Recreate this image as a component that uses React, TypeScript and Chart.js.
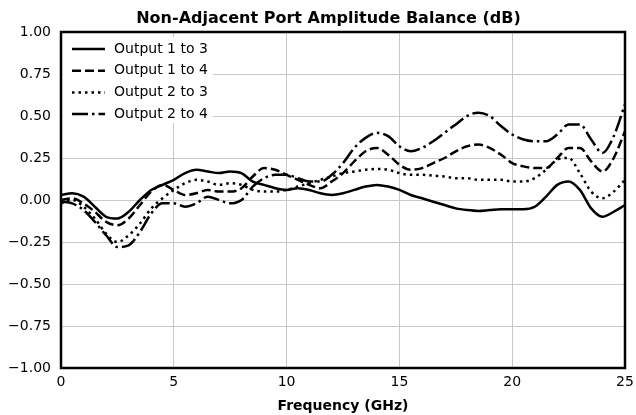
import React, { useEffect, useRef } from "react";
import { Chart, registerables } from "chart.js";

Chart.register(...registerables);

const frequencyGHz = [
  0, 0.5, 1, 1.5, 2, 2.5, 3, 3.5, 4, 4.5, 5, 5.5, 6, 6.5, 7, 7.5, 8, 8.5, 9, 9.5,
  10, 10.5, 11, 11.5, 12, 12.5, 13, 13.5, 14, 14.5, 15, 15.5, 16, 16.5, 17, 17.5,
  18, 18.5, 19, 19.5, 20, 20.5, 21, 21.5, 22, 22.5, 23, 23.5, 24, 24.5, 25,
];

const output1to3 = [
  0.03, 0.04, 0.02, -0.04, -0.1, -0.11, -0.07, 0.0, 0.06, 0.09, 0.12, 0.16, 0.18, 0.17, 0.16, 0.17,
  0.16, 0.11, 0.09, 0.07, 0.06, 0.07, 0.06, 0.04, 0.03, 0.04, 0.06, 0.08, 0.09, 0.08, 0.06, 0.03,
  0.01, -0.01, -0.03, -0.05, -0.06, -0.065, -0.06, -0.055, -0.055, -0.055, -0.04, 0.02, 0.09, 0.11,
  0.06, -0.05, -0.1, -0.07, -0.03,
];

const output1to4 = [
  0.0, 0.01, -0.02, -0.07, -0.13, -0.15, -0.11, -0.03, 0.05, 0.09, 0.06, 0.03, 0.04, 0.06, 0.05, 0.05,
  0.07, 0.14, 0.19, 0.18, 0.15, 0.12, 0.09, 0.07, 0.11, 0.16, 0.23, 0.29, 0.31, 0.27, 0.21, 0.18,
  0.19, 0.22, 0.25, 0.29, 0.32, 0.33, 0.31, 0.27, 0.22, 0.2, 0.19, 0.19, 0.25, 0.31, 0.31, 0.23,
  0.17, 0.25, 0.41,
];

const output2to3 = [
  -0.02, 0.0, -0.04, -0.11, -0.2, -0.25, -0.21, -0.14, -0.05, 0.01, 0.06, 0.1, 0.12, 0.11, 0.09, 0.1,
  0.09, 0.06, 0.05, 0.05, 0.06, 0.08, 0.1, 0.12, 0.14, 0.16, 0.17, 0.18, 0.185, 0.18, 0.16, 0.15,
  0.15, 0.145, 0.14, 0.13, 0.13, 0.12, 0.12, 0.12, 0.11, 0.11, 0.13, 0.18, 0.24, 0.25, 0.16, 0.05,
  0.01, 0.05, 0.12,
];

const output2to4 = [
  -0.01, -0.02, -0.06, -0.13, -0.21, -0.28, -0.27, -0.19, -0.08, -0.02, -0.02, -0.04, -0.02, 0.02, 0.0,
  -0.02, 0.0, 0.08, 0.13, 0.15, 0.15, 0.13, 0.11, 0.11, 0.15, 0.22, 0.31, 0.37, 0.4, 0.38, 0.32, 0.29,
  0.31, 0.35, 0.4, 0.45, 0.5, 0.52, 0.5, 0.44, 0.39, 0.36, 0.35, 0.35, 0.39, 0.45, 0.45, 0.36, 0.28,
  0.38, 0.57,
];

const seriesLabels = ["Output 1 to 3", "Output 1 to 4", "Output 2 to 3", "Output 2 to 4"];
const seriesValues = [output1to3, output1to4, output2to3, output2to4];
const seriesDashes: number[][] = [[], [9, 4], [2.5, 4], [16, 4, 2.5, 4]];

const titleText = "Non-Adjacent Port Amplitude Balance (dB)";
const xAxisTitle = "Frequency (GHz)";

const FONT = "'DejaVu Sans', sans-serif";

Chart.defaults.font.family = FONT;
Chart.defaults.font.size = 14;
Chart.defaults.color = "#000";

const framePlugin = {
  id: "frameAndLegend",
  afterDatasetsDraw(chart: any) {
    const { ctx, chartArea } = chart;
    const { left, top, right, bottom } = chartArea;
    ctx.save();
    // legend (inside plot, upper left)
    ctx.fillStyle = "#ffffff";
    ctx.fillRect(left + 2, top + 5, 150, 86);
    ctx.font = `14px ${FONT}`;
    ctx.textBaseline = "middle";
    ctx.textAlign = "left";
    chart.data.datasets.forEach((ds: any, i: number) => {
      const y = top + 17 + i * 21.7;
      ctx.strokeStyle = "#000";
      ctx.lineWidth = 2.5;
      ctx.setLineDash(ds.borderDash || []);
      ctx.beginPath();
      ctx.moveTo(left + 11, y);
      ctx.lineTo(left + 44, y);
      ctx.stroke();
      ctx.setLineDash([]);
      ctx.fillStyle = "#000";
      ctx.fillText(ds.label, left + 53, y);
    });
    // frame
    ctx.strokeStyle = "#000";
    ctx.lineWidth = 2.5;
    ctx.strokeRect(left, top, right - left, bottom - top);
    // title
    ctx.font = `bold 16px ${FONT}`;
    ctx.textAlign = "center";
    ctx.textBaseline = "alphabetic";
    ctx.fillStyle = "#000";
    ctx.fillText(titleText, 328.5, 23);
    ctx.restore();
  },
};

export default function App() {
  const canvasRef = useRef<HTMLCanvasElement | null>(null);

  useEffect(() => {
    document.body.style.margin = "0";
    const canvas = canvasRef.current;
    if (!canvas) return;
    const chart = new Chart(canvas, {
      type: "line",
      data: {
        datasets: seriesLabels.map((label, i) => ({
          label,
          data: frequencyGHz.map((f, j) => ({ x: f, y: seriesValues[i][j] })),
          borderColor: "#000",
          backgroundColor: "#000",
          borderWidth: 2.5,
          borderDash: seriesDashes[i],
          pointRadius: 0,
          tension: 0.4,
          cubicInterpolationMode: "monotone" as const,
          fill: false,
        })),
      },
      options: {
        animation: false,
        responsive: false,
        maintainAspectRatio: false,
        layout: { padding: { left: 0, right: 11, top: 32, bottom: 0 } },
        plugins: {
          legend: { display: false },
          tooltip: { enabled: false },
          title: { display: false },
        },
        scales: {
          x: {
            type: "linear",
            min: 0,
            max: 25,
            ticks: {
              stepSize: 5,
              color: "#000",
              font: { family: FONT, size: 14 },
              padding: 6,
              maxRotation: 0,
            },
            grid: { color: "#c8c8c8", lineWidth: 1, drawTicks: false },
            border: { display: false },
            title: {
              display: true,
              text: xAxisTitle,
              color: "#000",
              font: { family: FONT, size: 14, weight: "bold" },
              padding: { top: 2, bottom: 0 },
            },
            afterFit(scale: any) {
              scale.height = 47;
              scale.paddingLeft = 0;
              scale.paddingRight = 0;
            },
          },
          y: {
            min: -1,
            max: 1,
            ticks: {
              stepSize: 0.25,
              color: "#000",
              font: { family: FONT, size: 14 },
              padding: 10,
              callback: (v: any) => {
                const n = Number(v);
                const s = Math.abs(n).toFixed(2);
                return n < 0 ? "\u2212" + s : s;
              },
            },
            grid: { color: "#c8c8c8", lineWidth: 1, drawTicks: false },
            border: { display: false },
            afterFit(scale: any) {
              scale.width = 61;
              scale.paddingTop = 0;
              scale.paddingBottom = 0;
            },
          },
        },
      },
      plugins: [framePlugin],
    });
    return () => chart.destroy();
  }, []);

  return (
    <div style={{ width: 636, height: 415 }}>
      <canvas ref={canvasRef} width={636} height={415} style={{ display: "block" }} />
    </div>
  );
}
